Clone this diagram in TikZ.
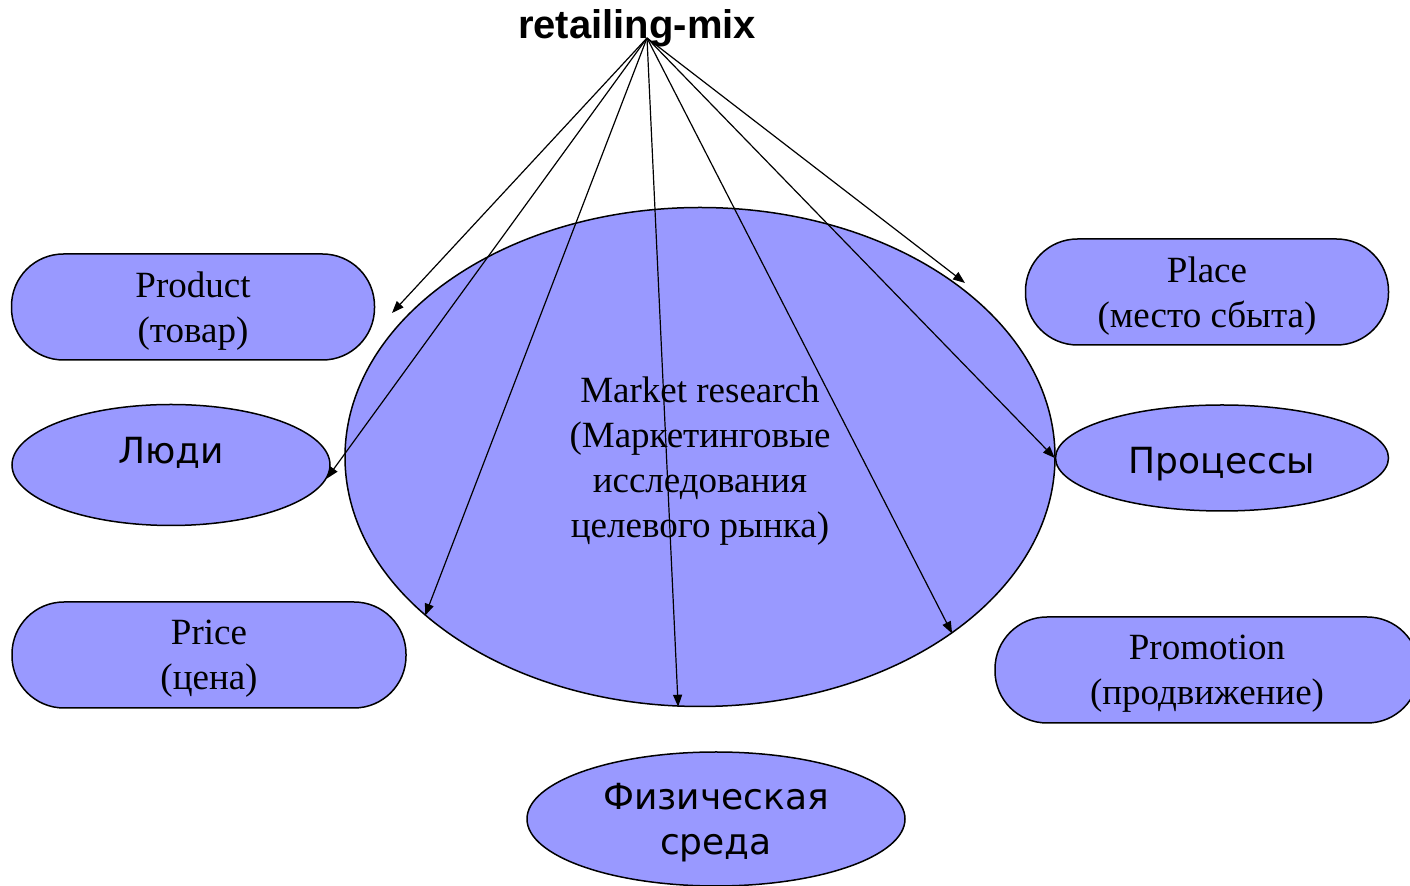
\documentclass[tikz,border=0pt]{standalone}
\usepackage{fontspec}
\setmainfont{Liberation Serif}
\setsansfont{Liberation Sans}
\newfontfamily\dejavu{DejaVu Sans}
\usetikzlibrary{arrows.meta,shapes.geometric}
\definecolor{fillblue}{HTML}{9999FF}

\begin{document}
\begin{tikzpicture}[x=0.5pt,y=-0.5pt,
    blob/.style={draw=black, fill=fillblue, line width=0.75pt},
    pill/.style={blob, rectangle, rounded corners=26pt, minimum width=#1, minimum height=53pt,
      inner sep=0pt, align=center, text depth=-2pt, font=\fontsize{18.5}{22.5}\selectfont},
    oval/.style={blob, ellipse, inner sep=0pt, align=center,
      font=\dejavu\fontsize{18}{22.5}\selectfont},
    ray/.style={-{Triangle[length=6pt,width=4.5pt]}, line width=0.6pt}]
      \useasboundingbox (0,0) rectangle (1410,886);
      % centre
      \node[blob, ellipse, minimum width=355pt, minimum height=249.5pt, align=center, text depth=-2pt,
        font=\fontsize{18.5}{22.5}\selectfont] (mkt) at (700,457)
        {Market research\\(Маркетинговые\\исследования\\целевого рынка)};
      % left side
      \node[pill=181.5pt] (product) at (193,307) {Product\\(товар)};
      \node[oval, minimum width=159pt, minimum height=60.5pt,
        label={[yshift=6pt, font=\dejavu\fontsize{18}{22.5}\selectfont]center:Люди}] (people) at (171,465) {};
      \node[pill=197pt] (price) at (209,655) {Price\\(цена)};
      % right side
      \node[pill=181.5pt] (place) at (1207,292) {Place\\(место сбыта)};
      \node[oval, minimum width=166.5pt, minimum height=53pt, text height=19pt] (process) at (1222,458) {Процессы};
      \node[pill=212pt] (promo) at (1207,670) {Promotion\\(продвижение)};
      % bottom
      \node[oval, minimum width=189pt, minimum height=67pt, text depth=-2.7pt] (physical) at (716,819) {Физическая\\среда};
      % title and arrows
      \node[font=\sffamily\bfseries\fontsize{20}{24}\selectfont] (title) at (637,28) {retailing-mix};
      \coordinate (src) at (647,38);
      \coordinate (t1) at (392,313);
      \coordinate (t7) at (965,283);
      \draw[ray] (src) -- (t1);
      \draw[ray] (src) -- (people.-5);
      \draw[ray] (src) -- (mkt.-150.5);
      \draw[ray] (src) -- (mkt.-95);
      \draw[ray] (src) -- (mkt.-35);
      \draw[ray] (src) -- (process.west);
      \draw[ray] (src) -- (t7);
    \end{tikzpicture}
\end{document}
